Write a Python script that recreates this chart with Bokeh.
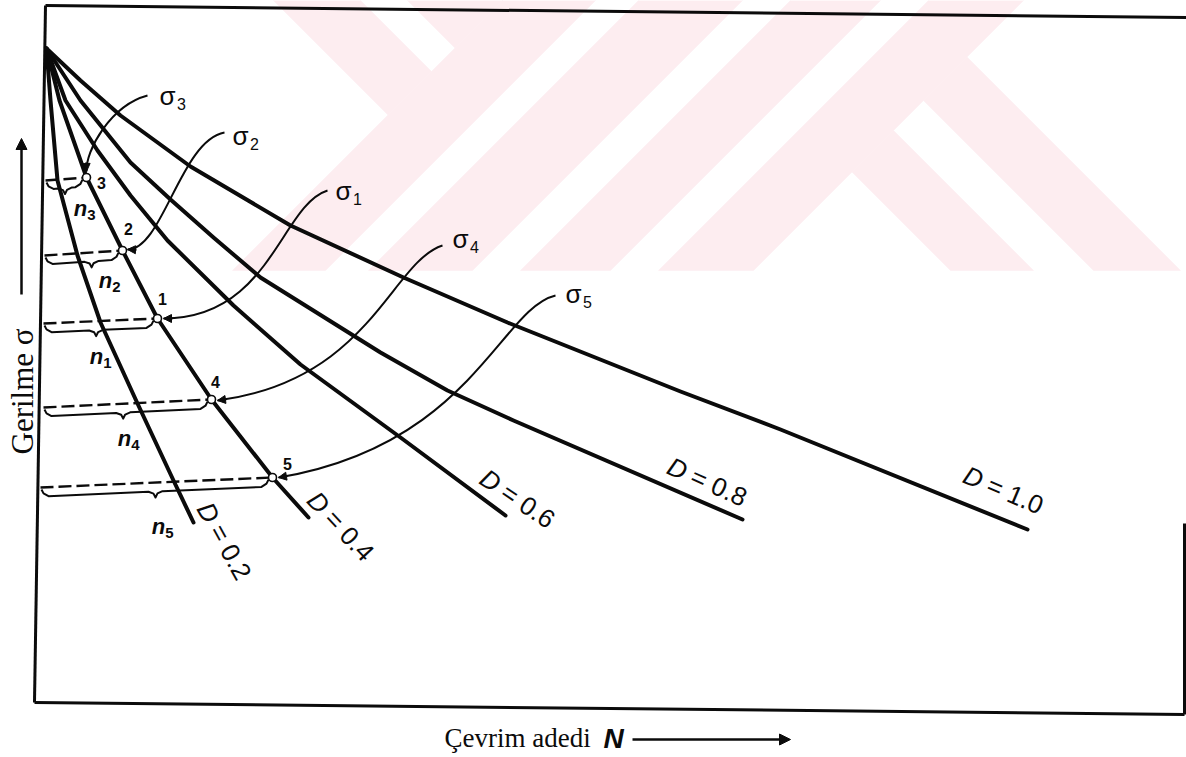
import numpy as np
from bokeh.plotting import figure
from bokeh.models import Range1d, Arrow, NormalHead
from bokeh.embed import file_html
from bokeh.resources import INLINE
from bokeh.core.properties import value

# ------------------------------------------------------------------
# Constant-damage lines on a stress (sigma) - number of cycles (N) sketch.
# N is counted from the sigma axis, sigma upwards from the N axis
# (drawing units, one unit = one pixel).
# ------------------------------------------------------------------
damage_labels = ["0.2", "0.4", "0.6", "0.8", "1.0"]

n_d02 = [1, 5, 12, 32, 55, 92, 128, 148]
s_d02 = [652, 600, 520, 445, 378, 297, 220, 178]

n_d04 = [1, 14, 41, 77, 112, 166, 227, 263]
s_d04 = [652, 600, 523, 450, 382, 301, 223, 183]

n_d06 = [1, 20, 52, 85, 122, 188, 255, 355, 460]
s_d06 = [652, 600, 550, 505, 460, 395, 336, 263, 185]

n_d08 = [1, 35, 85, 125, 168, 215, 335, 402, 468, 697]
s_d08 = [652, 600, 538, 501, 463, 423, 348, 310, 280, 181]

n_d10 = [1, 35, 75, 145, 245, 358, 462, 635, 735, 982]
s_d10 = [652, 620, 585, 534, 475, 423, 378, 309, 271, 171]

# loading blocks (sigma_i, n_i), all lying on the D = 0.4 line
block_names = ["3", "2", "1", "4", "5"]
block_n = [41, 77, 112, 166, 227]
block_sigma = [523, 450, 382, 301, 223]
# where each stress level meets the sigma axis
axis_n = [0, -1, -2, -2, -5]
axis_sigma = [520, 445, 377, 293, 213]

W, H = 1186, 757
X0, Y0 = 45, 700          # page position of the origin of the drawing units
ink = "#0b0b0b"
pink = "#fdedf0"
SANS = value("Liberation Sans")
SERIF = value("Liberation Serif")


def at(x, y):
    """page position -> drawing units"""
    return x - X0, Y0 - y


def poly(pts):
    return [x - X0 for x, _ in pts], [Y0 - y for _, y in pts]


p = figure(width=W, height=H, x_range=Range1d(-X0, W - X0), y_range=Range1d(Y0 - H, Y0),
           output_backend="svg", toolbar_location=None, min_border=0,
           x_axis_type=None, y_axis_type=None)
p.grid.visible = False
p.outline_line_color = None
p.background_fill_color = "white"
p.border_fill_color = "white"

# ---- faint background emblem (diagonal stripes) ----
bands = [
    [(273, 0), (360, 0), (431, 71), (387.5, 114.5)],
    [(407, 0), (502, 0), (454.5, 47.5)],
    [(502, 0), (595, 0), (325, 270), (232, 270)],
    [(638, 0), (742, 0), (472, 270), (368, 270)],
    [(790, 0), (880, 0), (610, 270), (520, 270)],
    [(928, 0), (1023, 0), (753, 270), (658, 270)],
    [(851.5, 171.5), (893, 130), (1033, 270), (950, 270)],
    [(923, 100), (966.5, 56.5), (1180, 270), (1093, 270)],
]
gx, gy = zip(*[poly(b) for b in bands])
p.patches(list(gx), list(gy), fill_color=pink, line_color=pink, line_width=0.5)

# ---- frame ----
frame = [[(45, 5), (34, 702)], [(45, 5), (1186, 17)], [(34, 702), (1184, 714)],
         [(1184, 523), (1184, 714)]]
fx, fy = zip(*[poly(s) for s in frame])
p.multi_line(list(fx), list(fy), line_color=ink, line_width=3)

# ---- damage lines ----
curves = [(n_d02, s_d02), (n_d04, s_d04), (n_d06, s_d06), (n_d08, s_d08), (n_d10, s_d10)]
for n, s in curves:
    p.line(n, s, line_color=ink, line_width=4, line_join="round", line_cap="round")

# ---- stress levels: dashed lines from the sigma axis to the block points ----
p.multi_line([[a, b] for a, b in zip(axis_n, block_n)],
             [[a, b] for a, b in zip(axis_sigma, block_sigma)],
             line_color=ink, line_width=2.4, line_dash="13 5")


# ---- braces n_i under each dashed line ----
def brace(xa, ya, xb, yb, f, depth=9, tip=6):
    xc = xa + f * (xb - xa)

    def yl(x):
        return ya + (yb - ya) * (x - xa) / (xb - xa)

    pts = [(xa + 1, -2), (xa + 3, -depth + 3), (xa + 8, -depth), (xc - 7, -depth),
           (xc - 2, -depth - 2), (xc, -depth - tip), (xc + 2, -depth - 2), (xc + 7, -depth),
           (xb - 9, -depth), (xb - 4, -depth + 3), (xb - 2, -2)]
    return [q[0] for q in pts], [yl(q[0]) + q[1] for q in pts]


brace_frac = [0.5, 0.62, 0.47, 0.48, 0.5]
bxs, bys = [], []
for a_n, a_s, b_n, b_s, f in zip(axis_n, axis_sigma, block_n, block_sigma, brace_frac):
    xs, ys = brace(a_n, a_s, b_n - 2, b_s, f)
    bxs.append(xs)
    bys.append(ys)
p.multi_line(bxs, bys, line_color=ink, line_width=2, line_join="round")

# ---- leaders from sigma_i labels to the block points ----
leaders = {
    "3": [(147, 95), (110, 105), (85, 150), (86, 171)],
    "2": [(224, 132), (180, 140), (162, 250), (127, 249)],
    "1": [(327, 190), (280, 205), (270, 318), (163, 318)],
    "4": [(442, 245), (390, 262), (370, 380), (217, 400)],
    "5": [(555, 295), (500, 308), (470, 445), (278, 477)],
}
lx0, ly0, lx1, ly1, lc0x, lc0y, lc1x, lc1y = ([] for _ in range(8))
for key, (a, c0, c1, b) in leaders.items():
    for lst, v in zip((lx0, ly0, lc0x, lc0y, lc1x, lc1y, lx1, ly1),
                      (*at(*a), *at(*c0), *at(*c1), *at(*b))):
        lst.append(v)
    d = np.array(at(*b)) - np.array(at(*c1))
    d = d / np.hypot(*d)
    tip = np.array(at(*b))
    s0 = tip - 9 * d
    p.add_layout(Arrow(end=NormalHead(size=8, fill_color=ink, line_color=ink, line_width=1),
                       x_start=s0[0], y_start=s0[1], x_end=tip[0], y_end=tip[1],
                       line_color=ink, line_width=2))
p.bezier(x0=lx0, y0=ly0, x1=lx1, y1=ly1, cx0=lc0x, cy0=lc0y, cx1=lc1x, cy1=lc1y,
         line_color=ink, line_width=2)

# ---- block points ----
p.scatter(block_n, block_sigma, size=8, marker="circle", fill_color="white",
          line_color=ink, line_width=1.6)

# point numbers
num_off = [(15, 5), (6, -22), (5, -20), (4, -18), (15, -14)]
p.text([n + dx for n, (dx, _) in zip(block_n, num_off)],
       [s - dy for s, (_, dy) in zip(block_sigma, num_off)],
       text=block_names, text_font=SANS, text_font_size="16px", text_font_style="bold",
       text_align="center", text_baseline="middle", text_color=ink)

# sigma_i labels
sig_pos = {"3": (167, 95), "2": (240, 135), "1": (343, 190), "4": (460, 238), "5": (573, 293)}
sx, sy = zip(*[at(*v) for v in sig_pos.values()])
p.text(list(sx), list(sy), text=["σ"] * 5, text_font=SANS, text_font_size="26px",
       text_align="center", text_baseline="middle", text_color=ink)
p.text([x + 14 for x in sx], [y - 8 for y in sy], text=list(sig_pos.keys()), text_font=SANS,
       text_font_size="16px", text_align="center", text_baseline="middle", text_color=ink)

# n_i labels
n_pos = {"3": (80, 208), "2": (105, 280), "1": (96, 356), "4": (124, 438), "5": (158, 526)}
nx, ny = zip(*[at(*v) for v in n_pos.values()])
p.text(list(nx), list(ny), text=["n"] * 5, text_font=SANS, text_font_size="22px",
       text_font_style="bold italic", text_align="center", text_baseline="middle",
       text_color=ink)
p.text([x + 11 for x in nx], [y - 6 for y in ny], text=list(n_pos.keys()), text_font=SANS,
       text_font_size="15px", text_font_style="bold", text_align="center",
       text_baseline="middle", text_color=ink)

# D = ... labels along the line ends
d_pos = [(208, 512, -61), (318, 502, -47), (490, 480, -34), (677, 468, -24), (973, 477, -23)]
for lab, (x, y, ang) in zip(damage_labels, d_pos):
    cx, cy = at(x, y)
    th = np.deg2rad(ang)
    p.text([cx], [cy], text=["D"], text_font=SANS, text_font_size="26px",
           text_font_style="italic", angle=th, text_align="center", text_baseline="middle",
           text_color=ink)
    ox, oy = cx + 16 * np.cos(th), cy + 16 * np.sin(th)
    p.text([ox], [oy], text=["= " + lab], text_font=SANS, text_font_size="26px",
           angle=th, text_align="left", text_baseline="middle", text_color=ink)

# ---- axis titles ----
gx0, gy0 = at(22, 454)
p.text([gx0], [gy0], text=["Gerilme σ"], text_font=SERIF, text_font_size="31px",
       angle=np.pi / 2, text_align="left", text_baseline="middle", text_color=ink)
a0, a1 = at(21, 294), at(21, 138)
p.add_layout(Arrow(end=NormalHead(size=11, fill_color=ink, line_color=ink),
                   x_start=a0[0], y_start=a0[1], x_end=a1[0], y_end=a1[1],
                   line_color=ink, line_width=2.5))

cx0, cy0 = at(444, 737)
p.text([cx0], [cy0], text=["Çevrim adedi"], text_font=SERIF, text_font_size="27px",
       text_align="left", text_baseline="middle", text_color=ink)
nx0, ny0 = at(603, 738)
p.text([nx0], [ny0], text=["N"], text_font=SANS, text_font_size="28px",
       text_font_style="bold italic", text_align="left", text_baseline="middle",
       text_color=ink)
b0, b1 = at(632, 739), at(790, 739)
p.add_layout(Arrow(end=NormalHead(size=11, fill_color=ink, line_color=ink),
                   x_start=b0[0], y_start=b0[1], x_end=b1[0], y_end=b1[1],
                   line_color=ink, line_width=2.5))

open("out.html", "w").write(file_html(p, INLINE))
